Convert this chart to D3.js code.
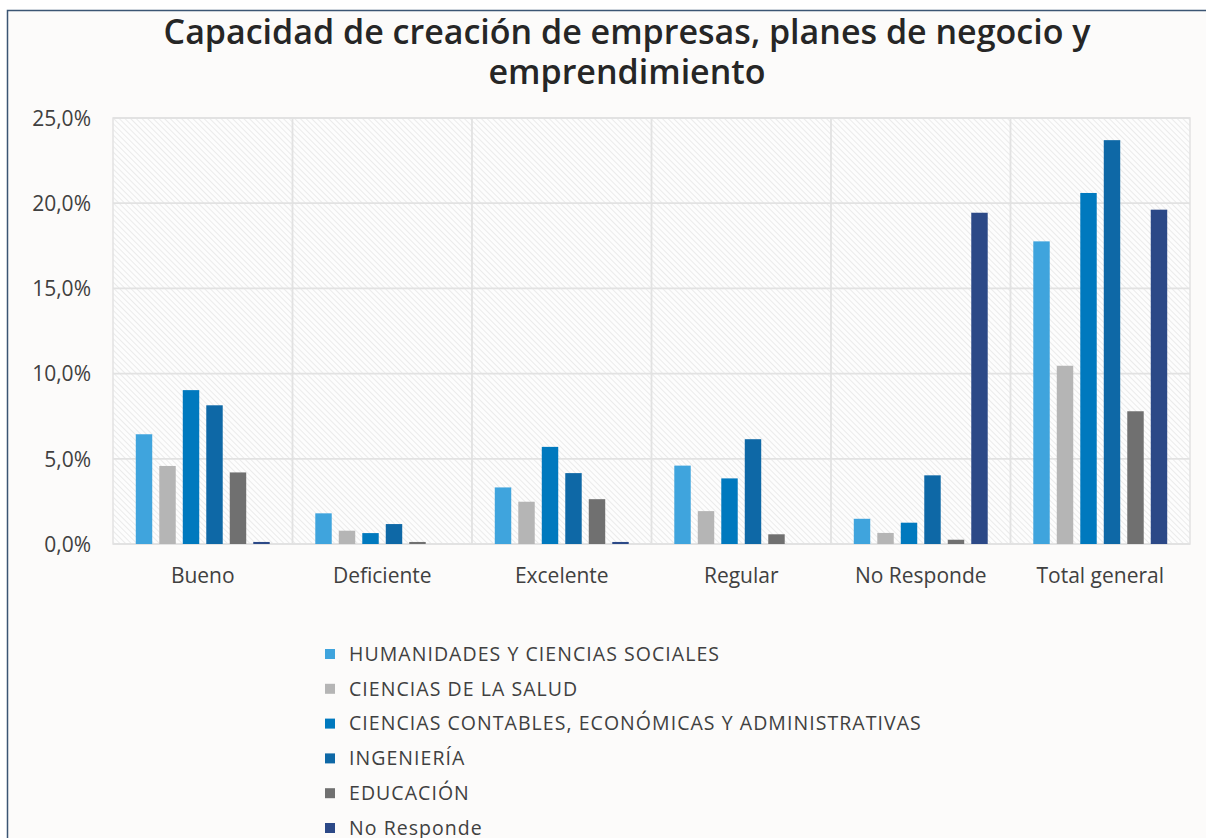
<!DOCTYPE html>
<meta charset="utf-8">
<style>
body { margin: 0; background: #fff; }
svg { display: block; }
.axis text { font-family: "Open Sans", "Noto Sans", sans-serif; fill: #404040; }
.title { font-family: "Open Sans", "Noto Sans", sans-serif; font-weight: 600; fill: #262626; }
.legend text { font-family: "Open Sans", "Noto Sans", sans-serif; fill: #404040; letter-spacing: 1.05px; }
</style>
<svg width="1206" height="838"></svg>
<script src="https://cdn.jsdelivr.net/npm/d3@7"></script>
<script>

var categories = ["Bueno", "Deficiente", "Excelente", "Regular", "No Responde", "Total general"];
var series = ["HUMANIDADES Y CIENCIAS SOCIALES", "CIENCIAS DE LA SALUD",
  "CIENCIAS CONTABLES, ECONÓMICAS Y ADMINISTRATIVAS", "INGENIERÍA", "EDUCACIÓN", "No Responde"];
var colors = ["#3fa4dd", "#b5b5b5", "#0079be", "#0e68a6", "#707070", "#2c4987"];

// values in %, one array per series, in category order
var humanidades = [6.44, 1.80, 3.32, 4.60, 1.48, 17.76];
var salud       = [4.58, 0.78, 2.48, 1.93, 0.65, 10.46];
var contables   = [9.03, 0.64, 5.70, 3.85, 1.25, 20.60];
var ingenieria  = [8.14, 1.17, 4.16, 6.15, 4.03, 23.70];
var educacion   = [4.20, 0.12, 2.63, 0.57, 0.25, 7.79];
var noResponde  = [0.12, 0.00, 0.12, 0.00, 19.44, 19.62];

var yTicks = [0, 5, 10, 15, 20, 25];

var values = [humanidades, salud, contables, ingenieria, educacion, noResponde];

var svg = d3.select("svg");

// frame
svg.append("rect").attr("x", 7.5).attr("y", 10.5).attr("width", 1210).attr("height", 840)
    .attr("fill", "#fcfbfa").attr("stroke", "#3b5573").attr("stroke-width", 1.5);

// title
var title = svg.append("text").attr("class", "title").attr("text-anchor", "middle")
    .attr("font-size", 34);
title.append("tspan").attr("x", 627).attr("y", 44).text("Capacidad de creación de empresas, planes de negocio y");
title.append("tspan").attr("x", 627).attr("y", 84).text("emprendimiento");

var plotLeft = 113, plotRight = 1190, plotTop = 118, plotBottom = 544;

var x0 = d3.scaleBand().domain(categories).range([plotLeft, plotRight]).padding(0);
var x1 = d3.scaleBand().domain(d3.range(series.length)).range([0, x0.bandwidth()])
    .paddingInner(0.3).paddingOuter(0.97);
var y = d3.scaleLinear().domain([0, 25]).range([plotBottom, plotTop]);

// hatched plot background
var defs = svg.append("defs");
var pat = defs.append("pattern").attr("id", "hatch").attr("patternUnits", "userSpaceOnUse")
    .attr("width", 4).attr("height", 4).attr("patternTransform", "rotate(-45)");
pat.append("rect").attr("width", 4).attr("height", 4).attr("fill", "#fdfdfd");
pat.append("line").attr("x1", 0).attr("y1", 0).attr("x2", 0).attr("y2", 4)
    .attr("stroke", "#e6e6e6").attr("stroke-width", 1.5);

svg.append("rect").attr("x", plotLeft).attr("y", plotTop)
    .attr("width", plotRight - plotLeft).attr("height", plotBottom - plotTop)
    .attr("fill", "url(#hatch)").attr("stroke", "#e2e2e2").attr("stroke-width", 1.5);

// gridlines
svg.append("g").selectAll("line").data(yTicks).join("line")
    .attr("x1", plotLeft).attr("x2", plotRight)
    .attr("y1", function(d) { return y(d); }).attr("y2", function(d) { return y(d); })
    .attr("stroke", "#e2e2e2").attr("stroke-width", 1.8);
svg.append("g").selectAll("line").data(categories.slice(1)).join("line")
    .attr("x1", function(d) { return x0(d); }).attr("x2", function(d) { return x0(d); })
    .attr("y1", plotTop).attr("y2", plotBottom)
    .attr("stroke", "#e2e2e2").attr("stroke-width", 1.8);

// bars
var groups = svg.append("g").selectAll("g").data(categories).join("g")
    .attr("transform", function(d) { return "translate(" + x0(d) + ",0)"; });
groups.selectAll("rect").data(function(c, ci) {
      return values.map(function(v, si) { return { s: si, v: v[ci] }; });
    }).join("rect")
    .attr("x", function(d) { return x1(d.s); })
    .attr("width", x1.bandwidth())
    .attr("y", function(d) { return y(d.v); })
    .attr("height", function(d) { return y(0) - y(d.v); })
    .attr("fill", function(d) { return colors[d.s]; });

// y axis
var fmt = function(d) { return d.toFixed(1).replace(".", ",") + "%"; };
var yAxis = svg.append("g").attr("class", "axis")
    .attr("transform", "translate(" + (plotLeft - 22) + ",0)")
    .call(d3.axisLeft(y).tickValues(yTicks).tickFormat(fmt).tickSize(0).tickPadding(0));
yAxis.select(".domain").remove();
yAxis.selectAll("text").attr("font-size", 21).attr("dy", "0.35em");

// x axis
var xAxis = svg.append("g").attr("class", "axis")
    .attr("transform", "translate(0," + plotBottom + ")")
    .call(d3.axisBottom(x0).tickSize(0).tickPadding(0));
xAxis.select(".domain").remove();
xAxis.selectAll("text").attr("font-size", 21).attr("dy", 0).attr("y", 39);

// legend
var legend = svg.append("g").attr("class", "legend").selectAll("g").data(series).join("g")
    .attr("transform", function(d, i) { return "translate(325," + (654 + i * 34.8) + ")"; });
legend.append("rect").attr("x", 0).attr("y", -5).attr("width", 10).attr("height", 10)
    .attr("fill", function(d, i) { return colors[i]; });
legend.append("text").attr("x", 24).attr("dy", "0.35em").attr("font-size", 19.5)
    .text(function(d) { return d; });

</script>
